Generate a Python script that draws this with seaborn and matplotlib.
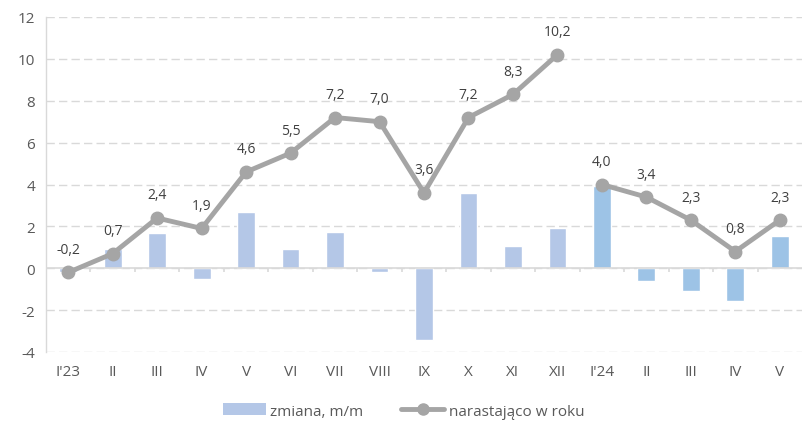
import matplotlib
matplotlib.use("Agg")
import matplotlib.pyplot as plt
import seaborn as sns
import pandas as pd
import numpy as np
from matplotlib.patches import Patch
from matplotlib.lines import Line2D

categories = ["I'23", "II", "III", "IV", "V", "VI", "VII", "VIII", "IX", "X", "XI", "XII",
              "I'24", "II ", "III ", "IV ", "V "]
tick_labels = ["I'23", "II", "III", "IV", "V", "VI", "VII", "VIII", "IX", "X", "XI", "XII",
               "I'24", "II", "III", "IV", "V"]
change_mm = [-0.2, 0.9, 1.7, -0.5, 2.7, 0.9, 1.75, -0.2, -3.45, 3.6, 1.05, 1.9,
             3.95, -0.6, -1.1, -1.55, 1.55]
cumulative = [-0.2, 0.7, 2.4, 1.9, 4.6, 5.5, 7.2, 7.0, 3.6, 7.2, 8.3, 10.2,
              4.0, 3.4, 2.3, 0.8, 2.3]
year = ["2023"] * 12 + ["2024"] * 5

sns.set_theme(style="white")
plt.rcParams['font.family'] = ['Open Sans', 'DejaVu Sans']

df = pd.DataFrame({"cat": categories, "change": change_mm, "cum": cumulative, "year": year})
df["pos"] = np.arange(len(df))

fig = plt.figure(figsize=(8.07, 4.27), dpi=100)
ax = fig.add_axes([46/807, 1 - 353/427, (802 - 46)/807, (353 - 18)/427])

text_color = "#595959"
line_color = "#a5a5a5"
bar_colors = {"2023": "#b4c7e7", "2024": "#9dc3e6"}

sns.barplot(data=df, x="cat", y="change", hue="year", palette=bar_colors,
            dodge=False, width=0.4, ax=ax, legend=False, saturation=1)

for yr, sub in df.groupby("year"):
    ax.plot(sub["pos"], sub["cum"], color=line_color, lw=3.5, marker="o",
            markersize=9, zorder=5, solid_joinstyle="round")

for xi, v in zip(df["pos"], cumulative):
    ax.text(xi, v + 1.1, f"{v:.1f}".replace(".", ","), ha="center", va="center",
            fontsize=10, color="#404040", zorder=6)

ax.set_ylim(-4, 12)
ax.set_xlim(-0.5, len(categories) - 0.5)
ax.set_yticks(np.arange(-4, 13, 2))
ax.set_yticklabels([str(v) for v in range(-4, 13, 2)])
ax.set_xticks(df["pos"])
ax.set_xticklabels(tick_labels)
ax.set_xlabel("")
ax.set_ylabel("")
ax.tick_params(axis="both", length=0, labelsize=11, colors=text_color)
ax.tick_params(axis="x", pad=9)
ax.tick_params(axis="y", pad=8)

ax.yaxis.grid(True, color="#d9d9d9", linestyle=(0, (6, 3)), lw=1)
ax.set_axisbelow(True)
for s in ["top", "right", "bottom"]:
    ax.spines[s].set_visible(False)
ax.spines["left"].set_color("#d9d9d9")
ax.spines["left"].set_linewidth(1)

ax.axhline(0, color="#d9d9d9", lw=1.2, zorder=1.5)
ax.vlines(df["pos"][:-1] + 0.5, -0.2, 0, color="#d9d9d9", lw=1.2, zorder=1.5)

handles = [Patch(facecolor="#b4c7e7", edgecolor="none", label="zmiana, m/m"),
           Line2D([0], [0], color=line_color, lw=3.5, marker="o", markersize=8,
                  label="narastająco w roku")]
fig.legend(handles=handles, loc="center", bbox_to_anchor=(0.5, 1 - 412/427), ncol=2,
           frameon=False, fontsize=11, labelcolor=text_color, handlelength=2.8,
           handleheight=0.8, columnspacing=2.5, handletextpad=0.3)

fig.savefig("out.png", dpi=100)
